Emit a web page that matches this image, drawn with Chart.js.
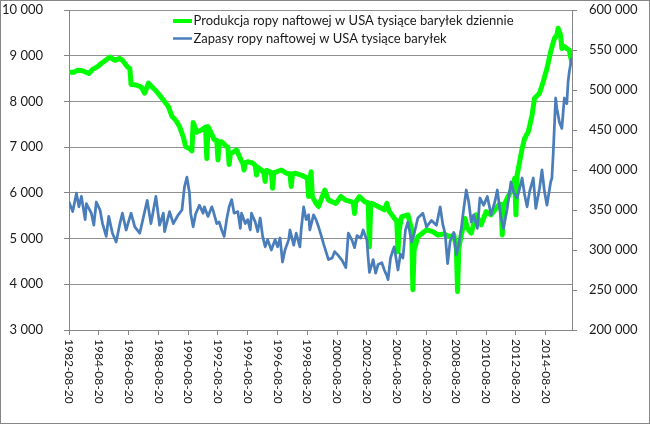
<!DOCTYPE html>
<html>
<head>
<meta charset="utf-8">
<script src="https://cdn.jsdelivr.net/npm/chart.js@4"></script>
<style>
  html, body { margin: 0; padding: 0; background: #fff; }
  canvas { display: block; }
</style>
</head>
<body>
<canvas id="chart" width="650" height="424"></canvas>
<script>
// Produkcja ropy naftowej w USA (tys. baryłek dziennie), odczyt z wykresu
const prodDates = [
  '1982-08','1982-12','1983-03','1983-07','1983-12','1984-03','1984-07','1984-10','1985-01','1985-05',
  '1985-09','1986-01','1986-03','1986-07','1986-09','1986-10','1987-02','1987-06','1987-09','1987-12',
  '1988-04','1988-08','1988-12','1989-04','1989-07','1989-10','1990-01','1990-04','1990-06','1990-09',
  '1990-11','1990-12','1991-03','1991-07','1991-10','1991-11','1991-12','1992-02','1992-05','1992-07',
  '1992-08','1992-09','1992-11','1993-03','1993-04','1993-05','1993-06','1993-11','1994-03','1994-04',
  '1994-05','1994-06','1994-08','1994-12','1995-02','1995-03','1995-04','1995-07','1995-09','1995-10',
  '1995-11','1996-03','1996-04','1996-05','1996-07','1996-11','1997-03','1997-06','1997-07','1997-08',
  '1997-10','1998-03','1998-08','1998-09','1998-10','1998-11','1998-12','1999-03','1999-05','1999-10',
  '2000-01','2000-07','2000-11','2001-03','2001-07','2001-09','2001-10','2001-11','2002-02','2002-06',
  '2002-09','2002-10','2002-11','2002-12','2003-05','2003-10','2003-12','2004-02','2004-07','2004-08',
  '2004-09','2004-10','2004-12','2005-05','2005-08','2005-09','2005-10','2006-01','2006-08','2007-01',
  '2007-05','2007-10','2008-03','2008-06','2008-08','2008-09','2008-10','2008-12','2009-03','2009-05',
  '2009-08','2009-12','2010-04','2010-08','2010-12','2011-06','2011-08','2011-09','2011-10','2012-01',
  '2012-05','2012-07','2012-08','2012-09','2013-01','2013-03','2013-06','2013-09','2013-11','2014-03',
  '2014-06','2014-09','2014-12','2015-03','2015-05','2015-06','2015-08','2015-09','2015-11','2016-01',
  '2016-03','2016-05'
];
const prodValues = [
  8640,8640,8680,8670,8610,8700,8760,8830,8890,8970,
  8900,8940,8900,8760,8720,8370,8360,8320,8180,8400,
  8290,8170,8030,7890,7670,7590,7450,7230,7010,6970,
  6920,7540,7330,7380,7440,6750,7450,7340,7160,7150,
  6720,7100,7120,7010,7000,6620,6850,6940,6690,6650,
  6500,6660,6680,6650,6600,6390,6560,6500,6430,6250,
  6490,6450,6100,6440,6460,6500,6430,6420,6140,6420,
  6430,6390,6320,5920,6300,6460,5920,5770,5700,6060,
  5840,5770,5920,5840,5810,5780,5550,5800,5920,5810,
  5780,4820,5700,5770,5700,5630,5770,5590,5410,5400,
  4710,5200,5480,5520,5200,3880,4750,5040,5190,5150,
  5080,5100,5040,5080,4790,3840,4790,5080,5440,5220,
  5120,5520,5300,5590,5520,5730,5750,5080,5700,5880,
  6100,6320,5520,6390,6970,7190,7340,7700,8070,8180,
  8430,8720,9090,9380,9450,9600,9450,9160,9200,9160,
  9120,8850
];

// Zapasy ropy naftowej w USA (tys. baryłek)
const stockDates = [
  '1982-08','1982-11','1983-02','1983-04','1983-06','1983-09','1983-10','1984-02','1984-04','1984-06',
  '1984-09','1984-11','1985-02','1985-04','1985-07','1985-10','1986-01','1986-03','1986-06','1986-10',
  '1987-01','1987-05','1987-11','1988-02','1988-06','1988-09','1988-12','1989-01','1989-05','1989-08',
  '1989-12','1990-03','1990-05','1990-07','1990-09','1990-10','1990-12','1991-02','1991-05','1991-08',
  '1991-09','1991-12','1992-03','1992-04','1992-07','1992-09','1992-11','1993-01','1993-03','1993-05',
  '1993-07','1993-09','1993-12','1994-02','1994-03','1994-06','1994-08','1994-10','1994-11','1995-02',
  '1995-04','1995-06','1995-08','1995-10','1995-12','1996-03','1996-06','1996-08','1996-10','1996-11',
  '1996-12','1997-02','1997-05','1997-06','1997-09','1997-11','1998-02','1998-03','1998-05','1998-07',
  '1998-09','1998-10','1999-01','1999-03','1999-05','1999-07','1999-09','2000-01','2000-04','2000-06',
  '2000-09','2000-12','2001-03','2001-05','2001-08','2001-10','2001-12','2002-03','2002-05','2002-08',
  '2002-09','2002-10','2003-01','2003-03','2003-05','2003-08','2003-10','2003-12','2004-01','2004-03',
  '2004-05','2004-06','2004-07','2004-09','2004-11','2005-01','2005-03','2005-05','2005-08','2005-10',
  '2006-01','2006-05','2006-08','2006-12','2007-04','2007-07','2007-09','2007-11','2008-01','2008-03',
  '2008-06','2008-08','2008-10','2008-12','2009-02','2009-04','2009-06','2009-08','2009-10','2010-01',
  '2010-03','2010-06','2010-09','2010-12','2011-03','2011-05','2011-08','2011-10','2012-01','2012-04',
  '2012-06','2012-09','2012-11','2013-01','2013-03','2013-05','2013-07','2013-10','2013-12','2014-03',
  '2014-05','2014-07','2014-09','2014-12','2015-01','2015-02','2015-04','2015-05','2015-07','2015-09',
  '2015-11','2016-01','2016-02','2016-03','2016-05'
];
const stockValues = [
  360000,348000,371000,354000,367000,338000,358000,346000,331000,360000,
  350000,333000,317000,342000,321000,310000,333000,346000,325000,346000,
  329000,321000,362000,333000,367000,331000,346000,323000,348000,333000,
  344000,350000,379000,391000,372000,346000,329000,345000,356000,346000,
  354000,342000,354000,350000,333000,335000,325000,317000,338000,354000,
  363000,346000,348000,327000,346000,333000,338000,325000,346000,335000,
  323000,340000,317000,304000,313000,300000,313000,304000,315000,300000,
  285000,300000,313000,325000,306000,321000,304000,325000,354000,338000,
  344000,325000,344000,338000,329000,319000,308000,288000,290000,298000,
  293000,287000,278000,321000,312000,303000,318000,315000,325000,312000,
  290000,272000,288000,271000,282000,284000,275000,268000,263000,290000,
  300000,304000,294000,275000,295000,290000,325000,335000,310000,320000,
  340000,346000,329000,337000,331000,354000,333000,320000,283000,311000,
  322000,294000,306000,327000,352000,375000,360000,335000,344000,327000,
  365000,356000,367000,344000,360000,375000,340000,327000,352000,385000,
  373000,365000,377000,390000,369000,354000,373000,390000,352000,377000,
  400000,373000,356000,385000,390000,419000,490000,477000,460000,452000,
  490000,483000,510000,523000,540000
];

const tickLabels = [
  '1982-08-20','1984-08-20','1986-08-20','1988-08-20','1990-08-20','1992-08-20',
  '1994-08-20','1996-08-20','1998-08-20','2000-08-20','2002-08-20','2004-08-20',
  '2006-08-20','2008-08-20','2010-08-20','2012-08-20','2014-08-20'
];

const prodLabel = 'Produkcja ropy naftowej w USA tysiące baryłek dziennie';
const stockLabel = 'Zapasy ropy naftowej w USA tysiące baryłek';

const GREEN = '#00ff00';
const BLUE = '#4a7ebb';
const AXIS = '#868686';
const FONT = 'Lato, "Liberation Sans", sans-serif';

// 'YYYY-MM' or 'YYYY-MM-DD' -> decimal year
function toYear(s) {
  const p = s.split('-').map(Number);
  const day = p[2] || 20;
  return p[0] + (p[1] - 1) / 12 + (day - 1) / 365;
}

function spaced(v) {
  return String(v).replace(/\B(?=(\d{3})+(?!\d))/g, ' ');
}

// keep the plot area where the reference has it
function fixWidth(w) {
  return s => {
    s.width = w;
    s.paddingTop = 0;
    s.paddingBottom = 0;
  };
}

// Legend, rotated date labels and outer frame
const decorations = {
  id: 'decorations',
  afterDraw(chart) {
    const ctx = chart.ctx;
    const x = chart.scales.x;
    ctx.save();

    // rotated dates under the x axis
    ctx.fillStyle = '#1a1a1a';
    ctx.font = '12px ' + FONT;
    ctx.textAlign = 'left';
    ctx.textBaseline = 'middle';
    tickLabels.forEach(t => {
      const px = x.getPixelForValue(toYear(t));
      ctx.save();
      ctx.translate(px, chart.chartArea.bottom + 9);
      ctx.rotate(Math.PI / 2);
      ctx.fillText(t, 0, 0);
      ctx.restore();
    });

    // legend
    ctx.font = '13px ' + FONT;
    const items = [
      { label: prodLabel, color: GREEN, width: 4, y: 21 },
      { label: stockLabel, color: BLUE, width: 2.5, y: 38.5 }
    ];
    items.forEach(it => {
      ctx.strokeStyle = it.color;
      ctx.lineWidth = it.width;
      ctx.beginPath();
      ctx.moveTo(173, it.y);
      ctx.lineTo(192, it.y);
      ctx.stroke();
      ctx.fillText(it.label, 193.5, it.y);
    });

    // chart frame
    ctx.strokeStyle = AXIS;
    ctx.lineWidth = 1;
    ctx.strokeRect(0.5, 0.5, chart.width - 1, chart.height - 1);
    ctx.restore();
  }
};

new Chart(document.getElementById('chart'), {
  type: 'line',
  data: {
    datasets: [
      {
        label: stockLabel,
        data: stockDates.map((d, i) => ({ x: toYear(d), y: stockValues[i] })),
        yAxisID: 'y1',
        borderColor: BLUE,
        borderWidth: 2.75,
        borderJoinStyle: 'round',
        pointRadius: 0,
        tension: 0
      },
      {
        label: prodLabel,
        data: prodDates.map((d, i) => ({ x: toYear(d), y: prodValues[i] })),
        yAxisID: 'y',
        borderColor: GREEN,
        borderWidth: 5,
        borderJoinStyle: 'round',
        borderCapStyle: 'round',
        pointRadius: 0,
        tension: 0
      }
    ]
  },
  options: {
    responsive: false,
    animation: false,
    layout: { padding: { top: 10 } },
    plugins: {
      legend: { display: false },
      tooltip: { enabled: false }
    },
    scales: {
      x: {
        type: 'linear',
        min: toYear(tickLabels[0]),
        max: 2016.4,
        afterBuildTicks: s => { s.ticks = tickLabels.map(t => ({ value: toYear(t) })); },
        afterFit: s => { s.height = 94; s.paddingLeft = 0; s.paddingRight = 0; },
        ticks: { display: false },
        grid: { drawOnChartArea: false, drawTicks: true, tickLength: 5, color: AXIS },
        border: { color: AXIS }
      },
      y: {
        position: 'left',
        min: 3000,
        max: 10000,
        afterFit: fixWidth(69),
        ticks: {
          stepSize: 1000,
          padding: 21,
          color: '#1a1a1a',
          font: { family: FONT, size: 13 },
          callback: v => spaced(v)
        },
        grid: { color: '#909090', tickLength: 5, tickColor: AXIS },
        border: { color: AXIS }
      },
      y1: {
        position: 'right',
        min: 200000,
        max: 600000,
        afterFit: fixWidth(78),
        ticks: {
          stepSize: 50000,
          padding: 12,
          color: '#1a1a1a',
          font: { family: FONT, size: 13 },
          callback: v => spaced(v)
        },
        grid: { drawOnChartArea: false, tickLength: 5, color: AXIS },
        border: { color: AXIS }
      }
    }
  },
  plugins: [decorations]
});
</script>
</body>
</html>
